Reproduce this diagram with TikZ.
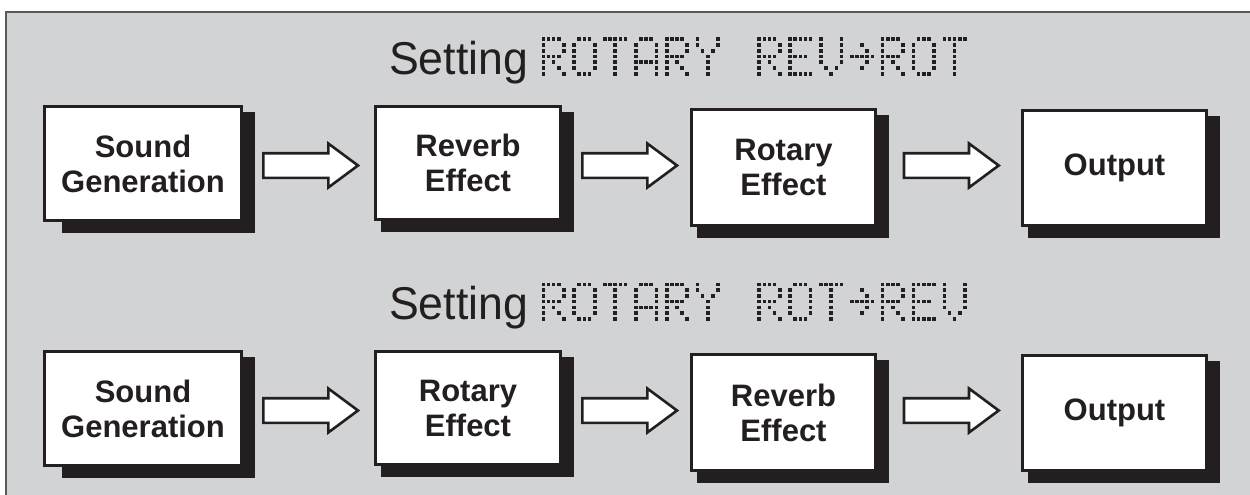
\documentclass[tikz,border=0pt]{standalone}
\usepackage{fontspec}
\setmainfont{Liberation Sans}
\newfontfamily\titlefont[FakeStretch=0.97]{Liberation Sans}
\usetikzlibrary{calc}
\pgfdeclarelayer{back}\pgfdeclarelayer{mid}
\pgfsetlayers{back,mid,main}
\definecolor{bgc}{HTML}{D1D3D4}
\definecolor{ink}{HTML}{231F20}
\definecolor{framec}{HTML}{595A5C}
\definecolor{dotc}{HTML}{231F20}
% 5x7 dot-matrix glyphs: row/column
\def\chR{0/0,0/1,0/2,0/3,1/0,1/4,2/0,2/4,3/0,3/1,3/2,3/3,4/0,4/2,5/0,5/3,6/0,6/4}
\def\chO{0/1,0/2,0/3,1/0,1/4,2/0,2/4,3/0,3/4,4/0,4/4,5/0,5/4,6/1,6/2,6/3}
\def\chT{0/0,0/1,0/2,0/3,0/4,1/2,2/2,3/2,4/2,5/2,6/2}
\def\chA{0/1,0/2,0/3,1/0,1/4,2/0,2/4,3/0,3/4,4/0,4/1,4/2,4/3,4/4,5/0,5/4,6/0,6/4}
\def\chY{0/0,0/4,1/0,1/4,2/1,2/3,3/2,4/2,5/2,6/2}
\def\chE{0/0,0/1,0/2,0/3,0/4,1/0,2/0,3/0,3/1,3/2,3/3,4/0,5/0,6/0,6/1,6/2,6/3,6/4}
\def\chV{0/0,0/4,1/0,1/4,2/0,2/4,3/0,3/4,4/0,4/4,5/1,5/3,6/2}
\def\chArr{1/2,2/3,3/0,3/1,3/2,3/3,3/4,4/3,5/2}
\newcommand\dmat[3]{\foreach \r/\c in #3 {\fill[dotc] ({541.5+#1*30.85+\c*5.14},{#2+\r*5.75}) rectangle ++(3.6,3.6);}}
\newcommand\shadowof[2][7]{\fill[ink] ($(#2.north west)+(#1,7)$) rectangle ($(#2.south east)+(12,11)$);}
\newcommand\barr[3]{% from node, gap, row coordinate
  \coordinate (s) at ($(#1.east |- #3)+(#2,0)$);
  \draw[barrow] ($(s)+(0,-12.3)$) -- ($(s)+(65,-12.3)$) -- ($(s)+(65,-22)$) -- ($(s)+(94.7,0)$)
    -- ($(s)+(65,22)$) -- ($(s)+(65,12.3)$) -- ($(s)+(0,12.3)$) -- cycle;}
\begin{document}
\begin{tikzpicture}[x=1pt,y=-1pt,
  fbox/.style={draw=ink, line width=2.6pt, fill=white, inner sep=0pt, align=center,
    font=\fontsize{31}{35}\selectfont\bfseries, text=ink},
  barrow/.style={draw=ink, line width=2.6pt, fill=white, miter limit=10},
  ttl/.style={anchor=base west, inner sep=0pt, text=ink, font=\titlefont\fontsize{46}{46}\selectfont}]
\useasboundingbox (0,0) rectangle (1250,495);
\begin{pgfonlayer}{back}
\fill[white] (0,0) rectangle (1250,495);
\fill[bgc] (6,12) rectangle (1250,495);
\draw[framec, line width=1.5pt] (6,495) -- (6,12) -- (1250,12);
\end{pgfonlayer}
% titles
\node[ttl] (t1) at (389,74.5) {Setting};
\node[ttl] (t2) at (389,319.5) {Setting};
\dmat{0}{37.5}{\chR}\dmat{1}{37.5}{\chO}\dmat{2}{37.5}{\chT}\dmat{3}{37.5}{\chA}\dmat{4}{37.5}{\chR}\dmat{5}{37.5}{\chY}
\dmat{7}{37.5}{\chR}\dmat{8}{37.5}{\chE}\dmat{9}{37.5}{\chV}\dmat{10}{37.5}{\chArr}\dmat{11}{37.5}{\chR}\dmat{12}{37.5}{\chO}\dmat{13}{37.5}{\chT}
\dmat{0}{282.5}{\chR}\dmat{1}{282.5}{\chO}\dmat{2}{282.5}{\chT}\dmat{3}{282.5}{\chA}\dmat{4}{282.5}{\chR}\dmat{5}{282.5}{\chY}
\dmat{7}{282.5}{\chR}\dmat{8}{282.5}{\chO}\dmat{9}{282.5}{\chT}\dmat{10}{282.5}{\chArr}\dmat{11}{282.5}{\chR}\dmat{12}{282.5}{\chE}\dmat{13}{282.5}{\chV}
% row 1
\node[fbox, minimum width=197.4pt, minimum height=114.4pt] (a1) at (143,163.5) {Sound\\Generation};
\node[fbox, minimum width=185.4pt, minimum height=113.4pt] (a2) at (468,163) {Reverb\\Effect};
\node[fbox, minimum width=184.4pt, minimum height=116.4pt] (a3) at (783.5,167.5) {Rotary\\Effect};
\node[fbox, minimum width=184.4pt, minimum height=115.4pt] (a4) at (1114.5,168) {Output};
% row 2
\node[fbox, minimum width=197.4pt, minimum height=114.4pt] (b1) at (143,408.5) {Sound\\Generation};
\node[fbox, minimum width=185.4pt, minimum height=113.4pt] (b2) at (468,408) {Rotary\\Effect};
\node[fbox, minimum width=184.4pt, minimum height=116.4pt] (b3) at (783.5,412.5) {Reverb\\Effect};
\node[fbox, minimum width=184.4pt, minimum height=115.4pt] (b4) at (1114.5,413) {Output};
\begin{pgfonlayer}{mid}
\shadowof[19]{a1}\shadowof{a2}\shadowof{a3}\shadowof{a4}
\shadowof[19]{b1}\shadowof{b2}\shadowof{b3}\shadowof{b4}
\end{pgfonlayer}
\coordinate (r1) at (0,165.5);
\coordinate (r2) at (0,410.5);
\barr{a1}{20.3}{r1}\barr{a2}{20.3}{r1}\barr{a3}{27}{r1}
\barr{b1}{20.3}{r2}\barr{b2}{20.3}{r2}\barr{b3}{27}{r2}
\end{tikzpicture}
\end{document}
